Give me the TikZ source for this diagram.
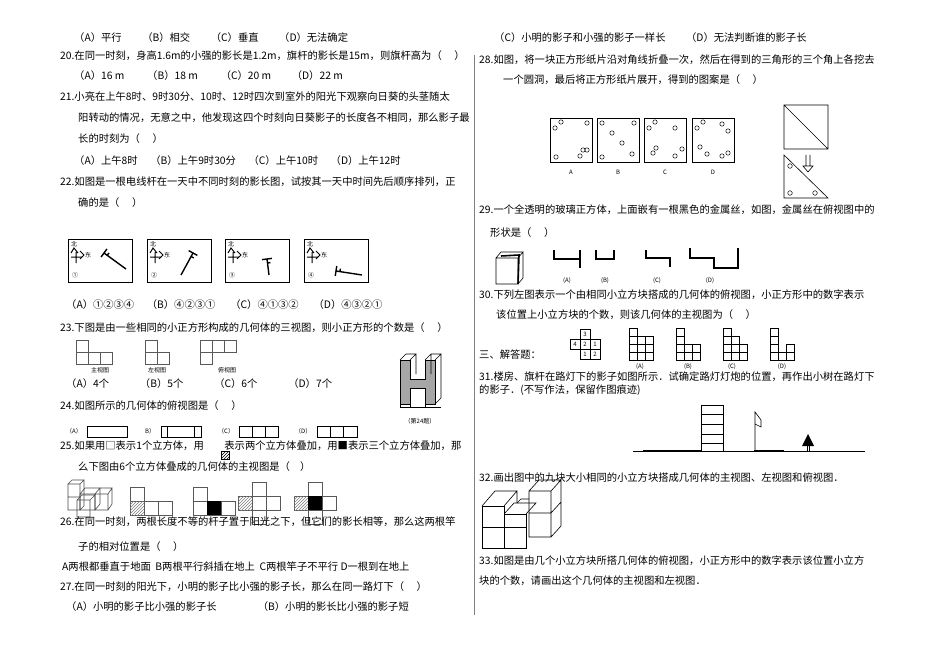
\documentclass[tikz,border=0pt]{standalone}
\usepackage{fontspec}
\setmainfont{Noto Sans CJK SC}
\usetikzlibrary{patterns,arrows.meta,calc}
\tikzset{txt/.style={anchor=west,inner sep=0pt,font=\fontsize{10.3}{12}\selectfont},
 sm/.style={inner sep=0pt,font=\fontsize{6}{7}\selectfont},
 ln/.style={line width=0.6pt}, thick2/.style={line width=1.6pt}}
\newcommand{\TT}[3]{\node[txt] at (#1,#2) {#3};}
\newcommand{\colm}[3]{\foreach \k in {1,...,#3}{\draw[ln] (#1,#2-8*\k) rectangle ++(8,8);}}
\begin{document}
\begin{tikzpicture}[x=1pt,y=-1pt]
\useasboundingbox (0,0) rectangle (950,671);
\fill[white] (0,0) rectangle (950,671);
% divider
\draw[gray,line width=0.8pt] (474,55) -- (474,615);
% ---------- left column
\TT{74}{38}{（A）平行\quad\quad（B）相交\quad\quad（C）垂直\quad\quad（D）无法确定}
\TT{60}{56}{20.在同一时刻，身高1.6m的小强的影长是1.2m，旗杆的影长是15m，则旗杆高为（\quad\ ）}
\TT{74}{76}{（A）16 m\quad\quad\ （B）18 m\quad\quad\ （C）20 m\quad\quad（D）22 m}
\TT{60}{97}{21.小亮在上午8时、9时30分、10时、12时四次到室外的阳光下观察向日葵的头茎随太}
\TT{78}{118}{阳转动的情况，无意之中，他发现这四个时刻向日葵影子的长度各不相同，那么影子最}
\TT{78}{139}{长的时刻为（\quad\ ）}
\TT{74}{161}{（A）上午8时\quad\ （B）上午9时30分\quad\ （C）上午10时\quad\ （D）上午12时}
\TT{60}{182}{22.如图是一根电线杆在一天中不同时刻的影长图，试按其一天中时间先后顺序排列，正}
\TT{78}{203}{确的是（\quad\ ）}
% Q22 boxes
\foreach \bx/\n/\sx/\sy/\ex/\ey in {68/①/36/14/58/30, 147/②/46/14/34/36, 225/③/42/20/44/36, 304/④/32/32/58/36}{
 \begin{scope}[shift={(\bx,239)}]
 \draw[ln] (0,0) rectangle (64,43);
 \node[sm] at (6,5) {北};
 \draw[line width=1pt] (3,18) -- (14,18) (8,13) -- (8,24) (3,14) -- (6,9) -- (10,14);
 \draw[line width=1pt] (12,12) -- (16,16) -- (12,20);
 \node[sm] at (20,16) {东};
 \node[sm] at (7,36) {\n};
 \draw[line width=1.4pt] (\sx,\sy) -- (\ex,\ey);
 \draw[line width=1.4pt] ($(\sx,\sy)!5pt!90:(\ex,\ey)$) -- ($(\sx,\sy)!5pt!-90:(\ex,\ey)$);
 \draw[line width=1.4pt] ($(\sx,\sy)!4pt!(\ex,\ey)$) -- ($($(\sx,\sy)!4pt!(\ex,\ey)$)!3pt!90:(\ex,\ey)$);
 \end{scope}}
\TT{66}{305}{（A）①②③④\quad\ （B）④②③①\quad\ \ （C）④①③②\quad\ \ （D）④③②①}
\TT{60}{328}{23.下图是由一些相同的小正方形构成的几何体的三视图，则小正方形的个数是（\quad\ ）}
% views
\begin{scope}[ln,gray!70!black]
\draw (76,340) rectangle (88,352);
\draw (76,352) -- (112,352) -- (112,364) -- (76,364) -- cycle;
\draw (88,352)--(88,364) (100,352)--(100,364);
\draw (145,340) rectangle (157,352) (145,352) rectangle (157,364) (157,352) rectangle (169,364);
\draw (200,340) rectangle (212,352) (212,340) rectangle (224,352) (224,340) rectangle (236,352) (200,352) rectangle (212,364);
\end{scope}
\node[sm] at (100,370) {主视图}; \node[sm] at (157,370) {左视图}; \node[sm] at (227,370) {俯视图};
\TT{66}{384}{（A）4个\quad\quad\quad（B）5个\quad\quad\quad（C）6个\quad\quad\quad（D）7个}
% H figure
\begin{scope}[shift={(400,354)}]
\fill[gray!70] (0,6) -- (10,6) -- (10,25) -- (25,25) -- (25,6) -- (35,6) -- (35,50) -- (25,50) -- (25,34) -- (10,34) -- (10,50) -- (0,50) -- cycle;
\draw[ln] (0,6) -- (10,6) -- (10,25) -- (25,25) -- (25,6) -- (35,6) -- (35,50) -- (25,50) -- (25,34) -- (10,34) -- (10,50) -- (0,50) -- cycle;
\draw[ln] (0,6) -- (6,0) -- (16,0) -- (10,6) (16,0) -- (16,20) (25,6) -- (31,0) -- (41,0) -- (35,6) (41,0) -- (41,44) -- (35,50) (31,0)--(31,20);
\draw[ln] (0,50) -- (0,53) -- (41,53) (10,50)--(10,53) (25,50)--(25,53);
\end{scope}
\node[sm] at (420,421) {（第24题）};
\TT{60}{406}{24.如图所示的几何体的俯视图是（\quad\ ）}
\node[sm,anchor=west] at (66,431) {（A）}; \draw[ln] (87,426) rectangle (127,437);
\node[sm,anchor=west] at (145,431) {B）}; \draw[ln] (161,426) rectangle (201,437) (167,426)--(167,437) (194,426)--(194,437);
\node[sm,anchor=west] at (218,431) {（C）}; \draw[ln] (239,426) rectangle (278,437) (252,426)--(252,437) (265,426)--(265,437);
\node[sm,anchor=west] at (295,431) {（D）}; \draw[ln] (317,426) rectangle (357,437) (330,426)--(330,437) (343,426)--(343,437);
\TT{60}{446}{25.如果用□表示1个立方体，用\qquad 表示两个立方体叠加，用■表示三个立方体叠加，那}
\draw[pattern=north east lines] (221,451) rectangle (229,459);
\TT{78}{467}{么下图由6个立方体叠成的几何体的主视图是（\quad ）}
% cubes sketch
\begin{scope}[ln,gray!60!black]
\draw (68,484) rectangle (80,510) (68,497)--(80,497) (68,484)--(72,480)--(84,480)--(80,484) (84,480)--(84,506)--(80,510);
\draw (80,494) rectangle (95,510) (80,494)--(85,488)--(100,488)--(95,494) (100,488)--(100,504)--(95,510);
\draw (95,494) rectangle (108,510)(100,488)--(112,488)--(108,494)(112,488)--(112,504)--(108,510);
\draw (77,500) rectangle (90,517) (77,500)--(82,495)--(95,495)--(90,500);
\end{scope}
\begin{scope}[ln,gray!70!black]
\draw (130,487) rectangle (144,501) (130,501) rectangle (144,515) (144,501) rectangle (158,515) (158,501) rectangle (172,515);
\fill[pattern=north east lines,pattern color=gray] (130,501) rectangle (144,515);
\draw (193,487) rectangle (207,501) (193,501) rectangle (207,515) (207,501) rectangle (221,515) (221,501) rectangle (235,515);
\fill[black] (207,501) rectangle (221,515);
\draw (252,482) rectangle (266,496) (266,482)--(266,510) (252,496)rectangle(266,510) (266,496)rectangle(280,510) (238,496) rectangle (252,510) (252,510) rectangle (266,524);
\fill[pattern=north east lines,pattern color=gray] (238,496) rectangle (252,510);
\draw (308,482) rectangle (322,496) (308,496) rectangle (322,510) (322,496)rectangle(336,510) (294,496) rectangle (308,510) (308,510) rectangle (322,524);
\fill[pattern=north east lines,pattern color=gray] (294,496) rectangle (308,510);
\fill[black] (308,496) rectangle (322,510);
\end{scope}
\TT{60}{522}{26.在同一时刻，两根长度不等的杆子置于阳光之下，但它们的影长相等，那么这两根竿}
\TT{78}{547}{子的相对位置是（\quad\ ）}
\TT{62}{567}{A两根都垂直于地面\ \ B两根平行斜插在地上\ \ C两根竿子不平行\ D一根到在地上}
\TT{60}{587}{27.在同一时刻的阳光下，小明的影子比小强的影子长，那么在同一路灯下（\quad\ ）}
\TT{66}{607}{（A）小明的影子比小强的影子长\qquad\qquad（B）小明的影长比小强的影子短}
% ---------- right column
\TT{494}{38}{（C）小明的影子和小强的影子一样长\qquad（D）无法判断谁的影子长}
\TT{479}{60}{28.如图，将一块正方形纸片沿对角线折叠一次，然后在得到的三角形的三个角上各挖去}
\TT{503}{80}{一个圆洞，最后将正方形纸片展开，得到的图案是（\quad\ ）}
\foreach \qx/\lab in {550/A,597/B,644/C,692/D}{
 \draw[ln] (\qx,118) rectangle ++(42,44);
 \node[sm] at (\qx+21,172) {\lab};}
\begin{scope}[line width=0.5pt]
\foreach \p in {(555,128),(561,122),(587,123),(587,150),(556,157),(580,156),(583,150)} \draw \p circle (2.2);
\foreach \p in {(602,123),(634,123),(612,133),(622,143),(602,157),(632,154)} \draw \p circle (2.2);
\foreach \p in {(649,128),(655,122),(675,128),(656,148),(682,149),(675,156),(653,153)} \draw \p circle (2.2);
\foreach \p in {(697,128),(703,122),(722,124),(728,131),(700,147),(707,154),(728,153),(722,156)} \draw \p circle (2.2);
\end{scope}
\draw[ln] (784,105) rectangle (828,149) (784,105) -- (828,149);
\draw[ln] (784,155) -- (828,198) -- (784,198) -- cycle;
\draw[ln] (806,155) -- (806,166) (810,155)--(810,166) (803,166)--(808,172)--(813,166)--cycle;
\draw[line width=0.5pt] (790,166) circle (2.3) (790,193) circle (2.3) (815,193) circle (2.3);
\TT{479}{210}{29.一个全透明的玻璃正方体，上面嵌有一根黑色的金属丝，如图，金属丝在俯视图中的}
\TT{490}{233}{形状是（\quad\ ）}
\draw[ln] (496,258) rectangle (518,284) (496,258) -- (501,252) -- (523,252) -- (518,258) (523,252) -- (523,278) -- (518,284);
\draw[thick2] (501,256) -- (519,255) -- (518,284);
\draw[thick2] (554,250)--(554,259)--(580,259) (580,250)--(580,268);
\draw[thick2] (596,250)--(596,259)--(614,259)--(614,250);
\draw[thick2] (646,250)--(646,258)--(670,258)--(670,267);
\draw[thick2] (690,248)--(690,258)--(714,258)--(714,268)--(738,268)--(738,248);
\node[sm] at (567,281) {(A)}; \node[sm] at (605,281) {(B)}; \node[sm] at (657,281) {(C)}; \node[sm] at (710,281) {(D)};
\TT{479}{295}{30.下列左图表示一个由相同小立方块搭成的几何体的俯视图，小正方形中的数字表示}
\TT{496}{315}{该位置上小立方块的个数，则该几何体的主视图为（\quad\ ）}
\TT{479}{355}{三、解答题：}
% top view with numbers
\begin{scope}[ln]
\draw (580,329) rectangle (590,339) (570,339) rectangle (580,349) (580,339) rectangle (590,349) (590,339) rectangle (600,349) (580,349) rectangle (590,359) (590,349) rectangle (600,359);
\node[sm] at (585,334) {3}; \node[sm] at (575,344) {4}; \node[sm] at (585,344) {2}; \node[sm] at (595,344) {1}; \node[sm] at (585,354) {1}; \node[sm] at (595,354) {2};
\end{scope}
\colm{629}{360}{4}\colm{637}{360}{3}\colm{645}{360}{3}
\colm{676}{360}{4}\colm{684}{360}{2}\colm{692}{360}{2}
\colm{723}{360}{4}\colm{731}{360}{3}\colm{739}{360}{2}
\colm{770}{360}{4}\colm{778}{360}{1}\colm{786}{360}{2}
\node[sm] at (640,367) {(A)}; \node[sm] at (688,367) {(B)}; \node[sm] at (732,367) {(C)}; \node[sm] at (782,367) {(D)};
\TT{479}{377}{31.楼房、旗杆在路灯下的影子如图所示．试确定路灯灯炮的位置，再作出小树在路灯下}
\TT{479}{390}{的影子．(不写作法，保留作图痕迹)}
% scene
\draw[ln] (633,451) -- (865,451);
\draw[line width=1.5pt] (643,451) -- (701,451) (754,451) -- (784,451);
\draw[ln] (701,405) rectangle (723,451) (701,414)--(723,414) (701,424)--(723,424) (701,434)--(723,434) (701,443)--(723,443);
\draw[ln] (755,451) -- (755,412) -- (761,420) -- (761,427) -- (755,424);
\fill (808,434) -- (802,446) -- (814,446) -- cycle;
\draw[ln] (807,441)--(807,451) (809,441)--(809,451);
\TT{479}{478}{32.画出图中的九块大小相同的小立方块搭成几何体的主视图、左视图和俯视图．}
% 3d cubes
\begin{scope}[ln]
\draw (482,506) rectangle (504,527) (482,527) rectangle (504,548) (504,527) rectangle (526,548) (504,514) rectangle (526,527);
\draw (482,506) -- (495,491) -- (517,491) -- (504,506) (517,491) -- (517,503) ;
\draw (504,514) -- (514,503) -- (536,503) -- (526,514);
\draw (526,514)--(526,527);
\draw (529,491) rectangle (551,513) (529,513) rectangle (551,537) (529,491) -- (539,480) -- (561,480) -- (551,491) (561,480) -- (561,526) -- (551,537) (551,513)--(561,502);
\draw (517,503)--(521,499)--(529,499);
\end{scope}
\TT{479}{561}{33.如图是由几个小立方块所搭几何体的俯视图，小正方形中的数字表示该位置小立方}
\TT{479}{581}{块的个数，请画出这个几何体的主视图和左视图．}
\end{tikzpicture}
\end{document}
